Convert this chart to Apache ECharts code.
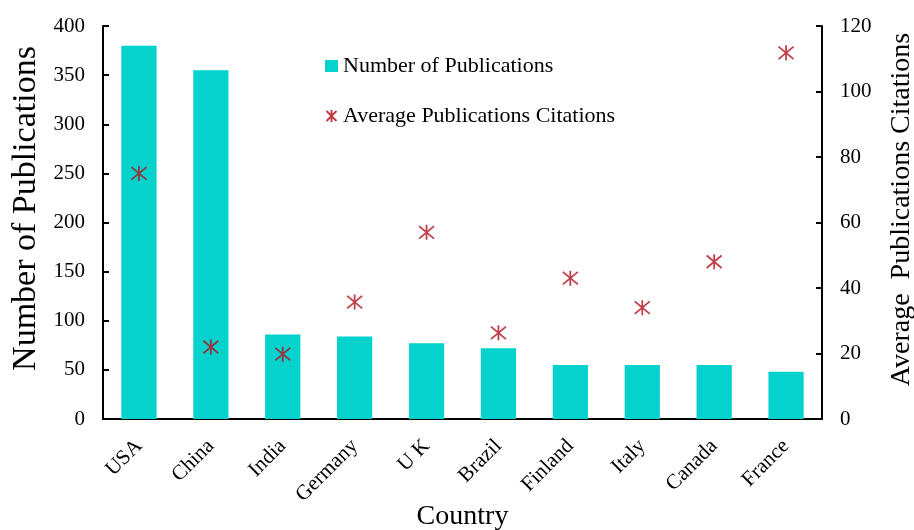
<!DOCTYPE html>
<html><head><meta charset="utf-8">
<script src="https://cdn.jsdelivr.net/npm/echarts@6/dist/echarts.min.js"></script>
<style>html,body{margin:0;padding:0;background:#fff}#c{width:914px;height:530px}</style>
</head><body><div id="c"></div>
<script>
const countries = ['USA','China','India','Germany','U K','Brazil','Finland','Italy','Canada','France'];
const publications = [380,355,86,84,77,72,55,55,55,48];
const citations = [75,22,19.8,35.7,57,26.3,43,34,48,111.8];
const leftTicks = [0,400,50];
const rightTicks = [0,120,20];

const font = 'Liberation Serif';
const chart = echarts.init(document.getElementById('c'));
const star = 'path://M0,0L10,10M10,0L0,10M5,-1L5,11';
chart.setOption({
  animation:false,
  textStyle:{fontFamily:font,color:'#000'},
  grid:{left:103,right:92,top:26,bottom:111,outerBoundsMode:'none',containLabel:false},
  legend:{
    orient:'vertical', left:320, top:50, itemGap:28, itemWidth:13, itemHeight:12,
    textStyle:{fontFamily:font,fontSize:22,color:'#000'},
    data:[{name:'Number of Publications',icon:'rect'},{name:'Average Publications Citations'}]
  },
  xAxis:{
    type:'category', data:countries,
    name:'Country', nameLocation:'middle', nameGap:84, nameMoveOverlap:false,
    nameTextStyle:{fontFamily:font,fontSize:28,color:'#000'},
    axisLine:{lineStyle:{color:'#000',width:2}},
    axisTick:{inside:true,length:6,lineStyle:{color:'#000',width:2}},
    axisLabel:{rotate:45,fontFamily:font,fontSize:21,color:'#000',margin:24}
  },
  yAxis:[{
    type:'value', min:leftTicks[0], max:leftTicks[1], interval:leftTicks[2],
    name:'Number of Publications', nameLocation:'middle', nameGap:60, nameMoveOverlap:false,
    nameTextStyle:{fontFamily:font,fontSize:34,color:'#000',padding:[0,0,0,28]},
    axisLine:{show:true,lineStyle:{color:'#000',width:2}},
    axisTick:{show:true,inside:true,length:6,lineStyle:{color:'#000',width:2}},
    axisLabel:{fontFamily:font,fontSize:21,color:'#000',margin:18},
    splitLine:{show:false}
  },{
    type:'value', min:rightTicks[0], max:rightTicks[1], interval:rightTicks[2],
    name:'Average  Publications Citations', nameLocation:'middle', nameGap:66, nameMoveOverlap:false,
    nameTextStyle:{fontFamily:font,fontSize:28,color:'#000',padding:[0,0,0,26]},
    nameRotate:90,
    axisLine:{show:true,lineStyle:{color:'#000',width:2}},
    axisTick:{show:true,inside:true,length:6,lineStyle:{color:'#000',width:2}},
    axisLabel:{fontFamily:font,fontSize:21,color:'#000',margin:18},
    splitLine:{show:false}
  }],
  series:[{
    name:'Number of Publications', type:'bar', data:publications, barWidth:'49%',
    itemStyle:{color:'#05d2cd'}
  },{
    name:'Average Publications Citations', type:'scatter', yAxisIndex:1, data:citations,
    symbol:star, symbolSize:15,
    itemStyle:{color:'rgba(0,0,0,0)',borderColor:'#b0101c',borderWidth:1.8}
  }]
});
</script></body></html>
